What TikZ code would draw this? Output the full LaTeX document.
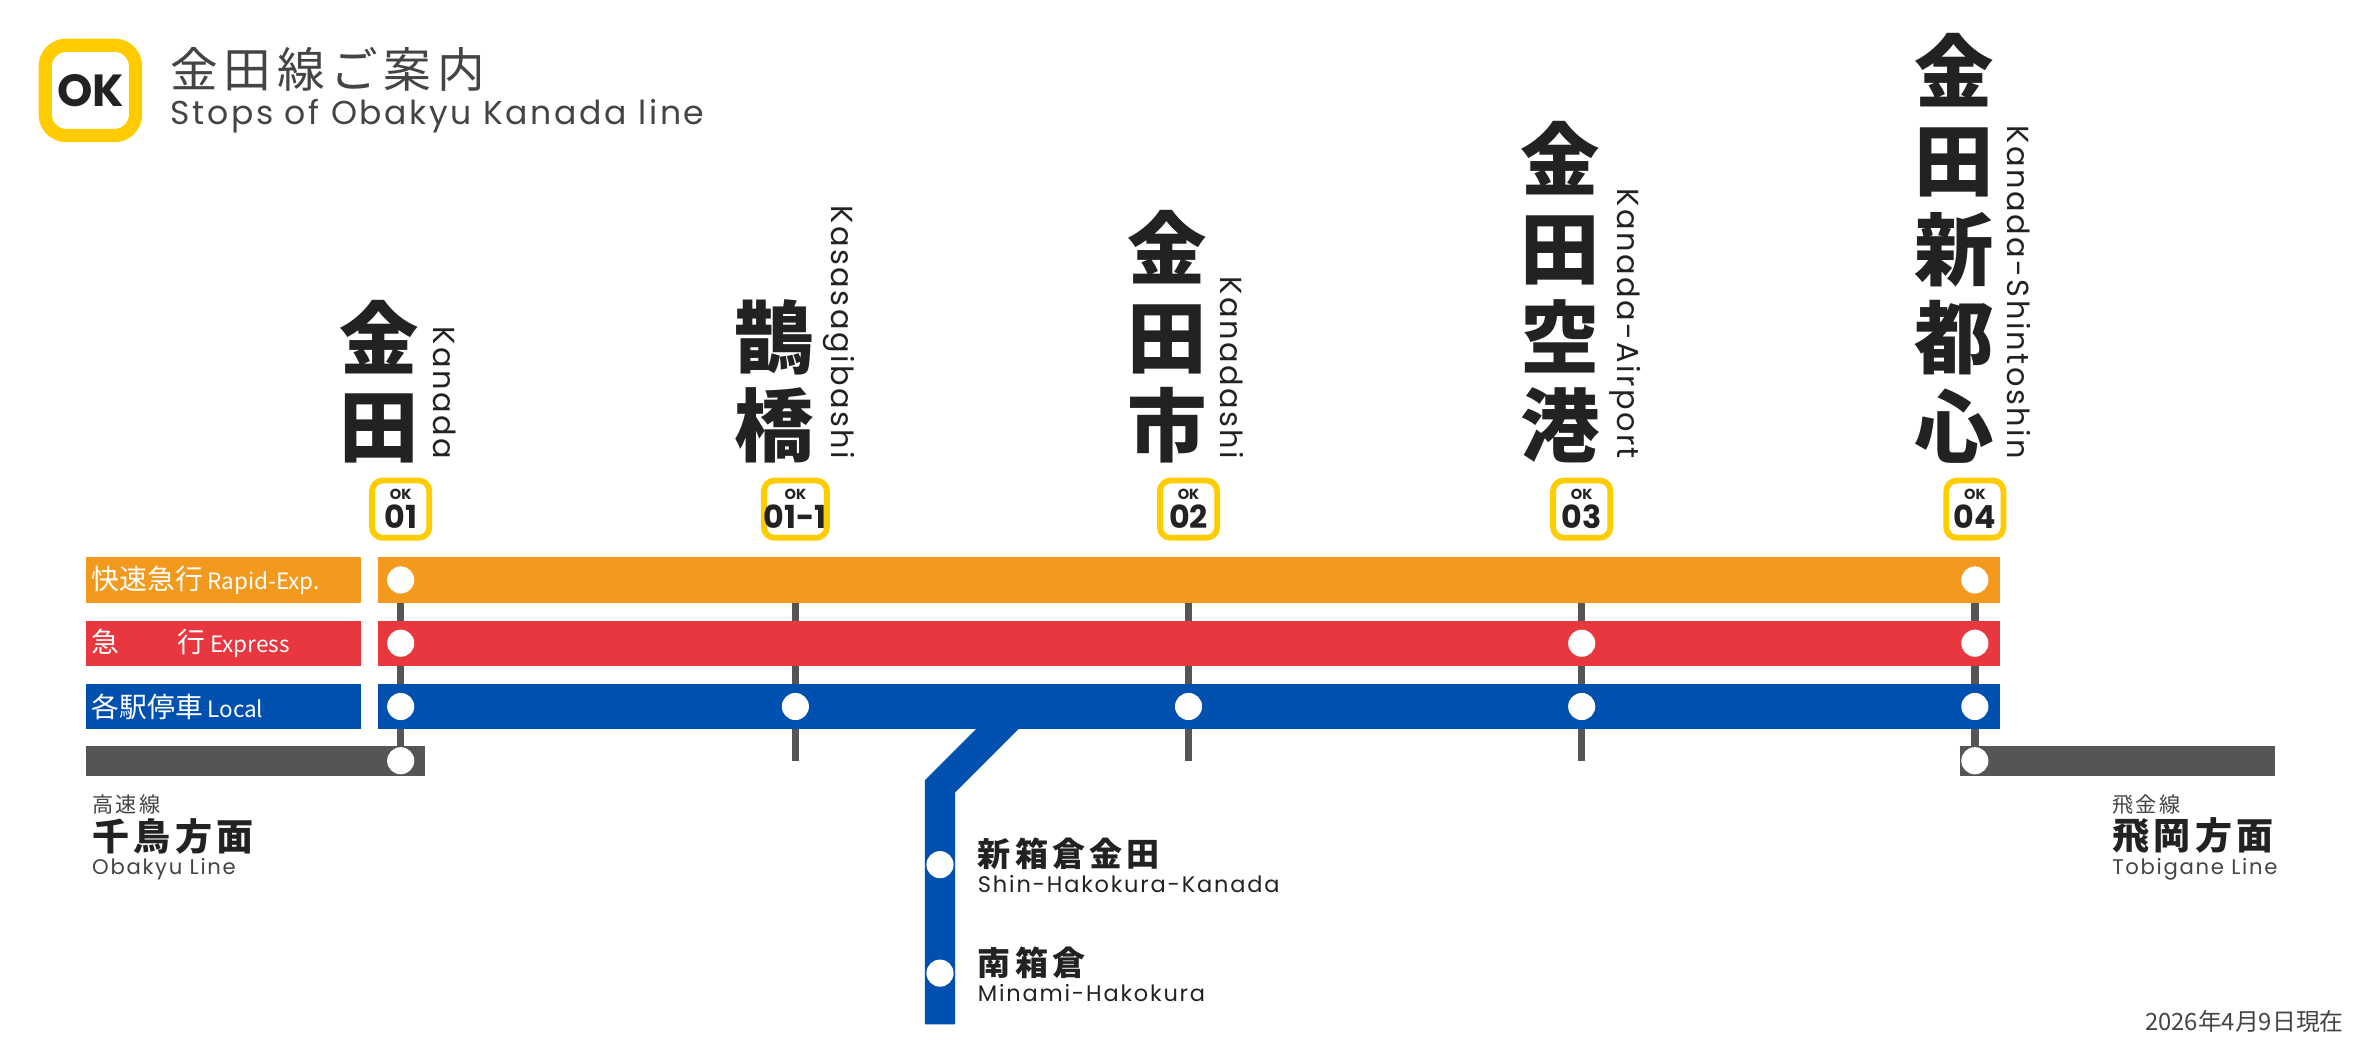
\documentclass[tikz,border=0pt]{standalone}
\usepackage{fontspec}
\setmainfont{Poppins}
\newfontfamily\jp{Noto Sans CJK JP}
\newfontfamily\jpwide{Noto Sans CJK JP}[LetterSpace=12]
\newfontfamily\wide{Poppins}[LetterSpace=8]
\usetikzlibrary{positioning}
\definecolor{okyellow}{HTML}{FFCC00}
\definecolor{rapid}{HTML}{F39A1E}
\definecolor{express}{HTML}{E8373F}
\definecolor{local}{HTML}{0050AF}
\definecolor{linegray}{HTML}{555555}
\definecolor{txtgray}{HTML}{444444}
\definecolor{ink}{HTML}{222222}
\tikzstyle{band} = [line width=30*0.02cm]
\tikzstyle{stop} = [circle, fill=white, inner sep=0pt, minimum size=18*0.02cm]
\tikzstyle{numbox} = [draw=okyellow, line width=2.2pt, fill=white, rounded corners=4pt,
    minimum width=38*0.02cm, minimum height=38*0.02cm, inner sep=0pt, align=center]
\tikzstyle{kind} = [rectangle, minimum height=30*0.02cm, text width=175*0.02cm,
    inner sep=2pt, text=white, anchor=west]

\begin{document}
\begin{tikzpicture}[x=0.02cm,y=-0.02cm,text=ink]
  \useasboundingbox (0,0) rectangle (1568,690);

  % header
  \node[draw=okyellow, line width=5pt, rounded corners=8pt, minimum size=60*0.02cm,
        inner sep=0pt, font=\bfseries\fontsize{17}{17}\selectfont] (logo) at (60,60) {OK};
  \node[anchor=west, text=txtgray, font=\jpwide\fontsize{18}{18}\selectfont] (title) at (107,46) {金田線ご案内};
  \node[anchor=west, text=txtgray, font=\wide\fontsize{12.5}{12.5}\selectfont] (subtitle) at (107,77) {Stops of Obakyu Kanada line};

  % through lines
  \draw[linegray, line width=20*0.02cm] (57,505) -- (282,505);
  \draw[linegray, line width=20*0.02cm] (1301,505) -- (1510,505);
  \foreach \x in {266,528,789,1050,1311}
    \draw[linegray, line width=5*0.02cm] (\x,385) -- (\x,505);
  \draw[local, line width=20*0.02cm] (670,476) -- (624,522) -- (624,680);
  \draw[rapid, band] (251,385) -- (1328,385);
  \draw[express, band] (251,427) -- (1328,427);
  \draw[local, band] (251,469) -- (1328,469);

  % service kinds
  \node[kind, fill=rapid] (k1) at (57,385) {\jp\fontsize{10.5}{10}\selectfont 快速急行\,\fontsize{8.5}{8}\selectfont Rapid-Exp.};
  \node[kind, fill=express] (k2) at (57,427) {\jp\fontsize{10.5}{10}\selectfont 急\hspace{2.1em}行\,\fontsize{8.5}{8}\selectfont Express};
  \node[kind, fill=local] (k3) at (57,469) {\jp\fontsize{10.5}{10}\selectfont 各駅停車\,\fontsize{8.5}{8}\selectfont Local};

  % stops
  \foreach \x in {266,1311} \node[stop] at (\x,385) {};
  \foreach \x in {266,1050,1311} \node[stop] at (\x,427) {};
  \foreach \x in {266,528,789,1050,1311} \node[stop] at (\x,469) {};
  \foreach \x in {266,1311} \node[stop] at (\x,505) {};
  \node[stop] (s1) at (624,574) {};
  \node[stop] (s2) at (624,646) {};

  % stations
  \foreach \x/\kanji/\roma/\num in {266/{金\\田}/Kanada/01, 528/{鵲\\橋}/Kasasagibashi/01-1,
      789/{金\\田\\市}/Kanadashi/02, 1050/{金\\田\\空\\港}/Kanada-Airport/03,
      1311/{金\\田\\新\\都\\心}/Kanada-Shintoshin/04} {
    \node[numbox] at (\x,338) {\bfseries\fontsize{5.5}{5}\selectfont OK\\[-1pt]\bfseries\fontsize{12}{12}\selectfont \num};
    \node[anchor=south, align=center, inner sep=0pt, font=\jp\bfseries\fontsize{30}{33.5}\selectfont]
      at (\x-14,308) {\kanji};
    \node[anchor=east, rotate=-90, inner sep=0pt, font=\wide\fontsize{11.5}{11.5}\selectfont]
      at (\x+29,305) {\roma};
  }

  % branch stations and directions
  \node[anchor=west, font=\jpwide\bfseries\fontsize{12.5}{12.5}\selectfont] (n1) at (643,567) {新箱倉金田};
  \node[anchor=west, font=\wide\fontsize{8.5}{8.5}\selectfont] at (643,587) {Shin-Hakokura-Kanada};
  \node[anchor=west, font=\jpwide\bfseries\fontsize{12.5}{12.5}\selectfont] (n2) at (643,639) {南箱倉};
  \node[anchor=west, font=\wide\fontsize{8.5}{8.5}\selectfont] at (643,659) {Minami-Hakokura};

  \node[anchor=west, text=txtgray, font=\jpwide\fontsize{8}{8}\selectfont] at (55,534) {高速線};
  \node[anchor=west, font=\jpwide\bfseries\fontsize{14}{14}\selectfont] at (55,555) {千鳥方面};
  \node[anchor=west, text=txtgray, font=\wide\fontsize{8}{8}\selectfont] at (55,577) {Obakyu Line};
  \node[anchor=west, text=txtgray, font=\jpwide\fontsize{8}{8}\selectfont] at (1396,534) {飛金線};
  \node[anchor=west, font=\jpwide\bfseries\fontsize{14}{14}\selectfont] at (1396,555) {飛岡方面};
  \node[anchor=west, text=txtgray, font=\wide\fontsize{8}{8}\selectfont] at (1396,577) {Tobigane Line};

  \node[anchor=east, text=txtgray, font=\jp\fontsize{9}{9}\selectfont] at (1562,678) {2026年4月9日現在};
\end{tikzpicture}
\end{document}
